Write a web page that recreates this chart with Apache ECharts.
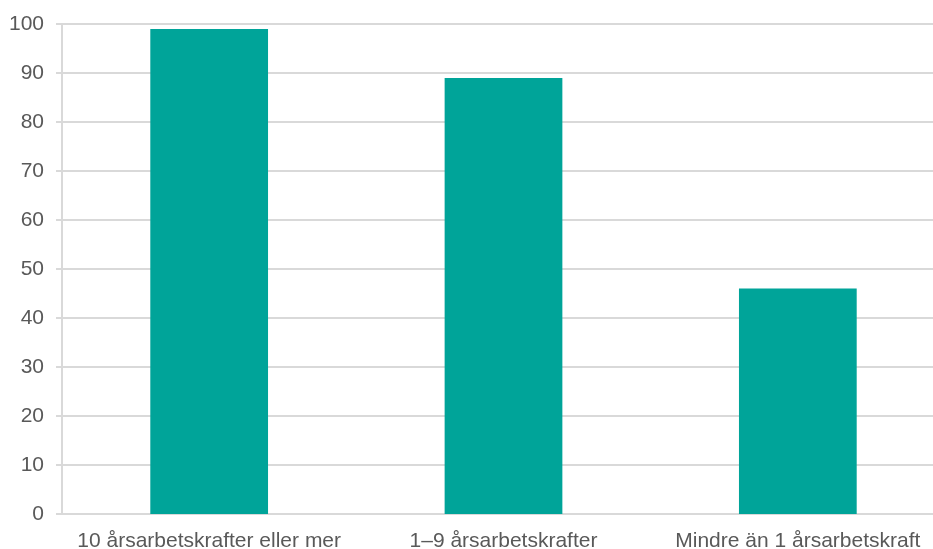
<!DOCTYPE html>
<html>
<head>
<meta charset="utf-8">
<script src="https://cdn.jsdelivr.net/npm/echarts@6/dist/echarts.min.js"></script>
<style>
  html, body { margin: 0; padding: 0; background: #fff; overflow: hidden; width: 933px; height: 549px; }
  #chart { width: 945px; height: 549px; }
</style>
</head>
<body>
<div id="chart"></div>
<script>
const categories = ['10 årsarbetskrafter eller mer', '1–9 årsarbetskrafter', 'Mindre än 1 årsarbetskraft'];
const values = [99, 89, 46];

const chart = echarts.init(document.getElementById('chart'));
const lineColor = '#d9d9d9';
const textColor = '#595959';

chart.setOption({
  animation: false,
  grid: { left: 62, right: 0, top: 24, bottom: 35, containLabel: false, outerBoundsMode: 'none' },
  xAxis: {
    type: 'category',
    data: categories,
    axisLine: { show: false },
    axisTick: { show: false },
    axisLabel: { interval: 0, color: textColor, fontFamily: 'Liberation Sans, Arial', fontSize: 21, margin: 17 }
  },
  yAxis: {
    type: 'value',
    min: 0,
    max: 100,
    interval: 10,
    axisLine: { show: true, lineStyle: { color: lineColor, width: 2 } },
    axisTick: { show: true, length: 6, lineStyle: { color: lineColor, width: 2 } },
    splitLine: { lineStyle: { color: lineColor, width: 2 } },
    axisLabel: { color: textColor, fontFamily: 'Liberation Sans, Arial', fontSize: 21, margin: 18 }
  },
  series: [{
    type: 'bar',
    data: values,
    barWidth: '40%',
    itemStyle: { color: '#00a499' }
  }]
});
</script>
</body>
</html>
